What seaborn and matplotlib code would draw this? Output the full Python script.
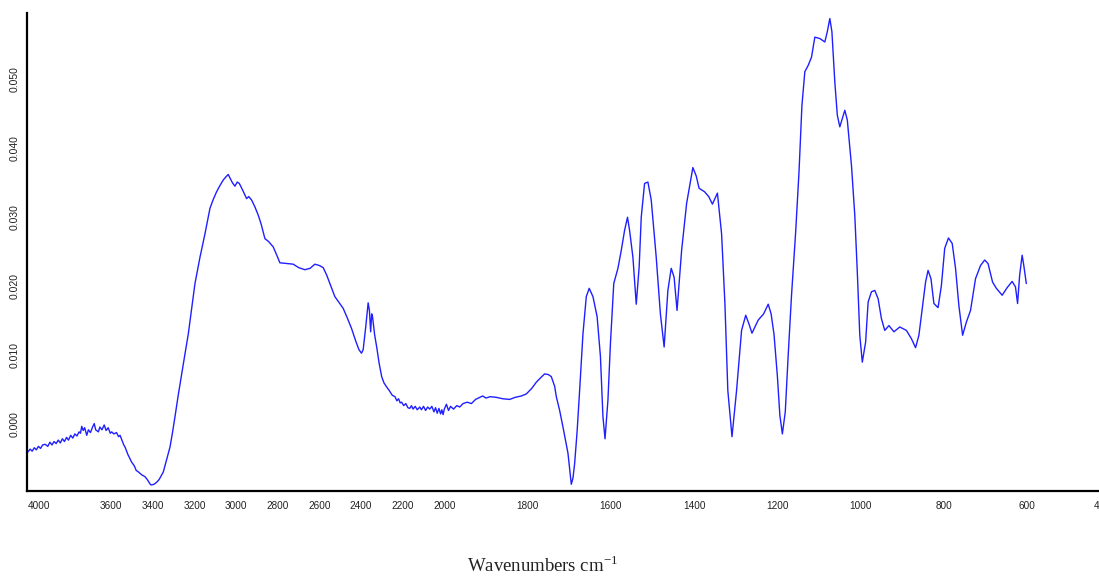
import numpy as np
import pandas as pd
import matplotlib
matplotlib.use("Agg")
import matplotlib.pyplot as plt
import seaborn as sns

# ---- data (wavenumber cm-1, absorbance) ----
wn_oh = [4000, 3990, 3980, 3970, 3960, 3950, 3940, 3930, 3918, 3905, 3895, 3885, 3875, 3865,
         3855, 3845, 3835, 3825, 3815, 3806, 3795, 3785, 3775, 3765, 3755, 3748, 3742, 3735,
         3728, 3718, 3710, 3700, 3690, 3682, 3675, 3662, 3655, 3645, 3634, 3625, 3615, 3605,
         3598, 3588, 3575, 3565, 3558, 3548, 3540, 3534, 3520, 3510, 3502, 3490, 3480, 3470,
         3455, 3438, 3425, 3415, 3409, 3395, 3382, 3370, 3350, 3335, 3318, 3306, 3294, 3278,
         3262, 3246, 3230, 3214, 3198, 3174, 3150, 3126, 3110, 3094, 3078, 3062, 3048, 3038,
         3030, 3018, 3006, 2995, 2985, 2970, 2950, 2940, 2926, 2910, 2894, 2880, 2862, 2845,
         2822, 2805, 2790, 2760, 2726, 2700, 2670, 2645, 2622, 2600, 2582, 2565, 2550, 2526,
         2505, 2486, 2466, 2446, 2425, 2410, 2398, 2390, 2378, 2366, 2360, 2354, 2349, 2345,
         2335, 2325, 2313, 2301, 2290, 2277, 2265, 2250, 2237, 2228, 2220, 2212, 2205]
ab_oh = [-0.0040, -0.0036, -0.0039, -0.0034, -0.0037, -0.0032, -0.0035, -0.0030, -0.0029,
         -0.0032, -0.0026, -0.0030, -0.0025, -0.0028, -0.0023, -0.0027, -0.0021, -0.0025,
         -0.0019, -0.0023, -0.0016, -0.0020, -0.0014, -0.0017, -0.0011, -0.0013, -0.0003,
         -0.0009, -0.0005, -0.0016, -0.0008, -0.0012, -0.0004, 0.0001, -0.0008, -0.0011,
         -0.0004, -0.0008, -0.0001, -0.0009, -0.0005, -0.0013, -0.0011, -0.0014, -0.0012,
         -0.0018, -0.0016, -0.0024, -0.0030, -0.0033, -0.0044, -0.0050, -0.0055, -0.0060,
         -0.0067, -0.0069, -0.0073, -0.0076, -0.0081, -0.0086, -0.0088, -0.0087, -0.0084,
         -0.0080, -0.0069, -0.0052, -0.0033, -0.0012, 0.0011, 0.0043, 0.0073, 0.0102, 0.0131,
         0.0167, 0.0204, 0.0242, 0.0276, 0.0313, 0.0326, 0.0337, 0.0346, 0.0354, 0.0359,
         0.0362, 0.0357, 0.0350, 0.0345, 0.0351, 0.0349, 0.0340, 0.0327, 0.0330, 0.0325,
         0.0315, 0.0303, 0.0290, 0.0269, 0.0265, 0.0257, 0.0245, 0.0234, 0.0233, 0.0232,
         0.0227, 0.0224, 0.0226, 0.0232, 0.0230, 0.0227, 0.0216, 0.0204, 0.0185, 0.0176,
         0.0168, 0.0154, 0.0139, 0.0120, 0.0108, 0.0103, 0.0108, 0.0140, 0.0176, 0.0165,
         0.0134, 0.0160, 0.0156, 0.0130, 0.0112, 0.0088, 0.0069, 0.0060, 0.0054, 0.0049,
         0.0042, 0.0040, 0.0034, 0.0037, 0.0031, 0.0032]

wn_base = [2195, 2185, 2175, 2166, 2158, 2150, 2140, 2130, 2118, 2110, 2100, 2090, 2080, 2070,
           2060, 2050, 2042, 2034, 2026, 2018, 2012, 2006, 2000, 1995, 1990, 1985, 1978, 1970,
           1963, 1955, 1945, 1935, 1925, 1915, 1908, 1900, 1890, 1875, 1860, 1843, 1830, 1815,
           1803, 1790, 1779, 1771, 1759, 1750, 1743, 1735, 1731, 1723, 1715, 1703, 1698, 1695,
           1691, 1687, 1681, 1675, 1667, 1659, 1652, 1643, 1633, 1625, 1619, 1614, 1607, 1601]
ab_base = [0.0027, 0.0030, 0.0024, 0.0023, 0.0027, 0.0022, 0.0026, 0.0021, 0.0025, 0.0021,
           0.0026, 0.0020, 0.0025, 0.0022, 0.0026, 0.0018, 0.0024, 0.0016, 0.0023, 0.0015,
           0.0021, 0.0014, 0.0022, 0.0029, 0.0020, 0.0026, 0.0022, 0.0027, 0.0025, 0.0030,
           0.0032, 0.0030, 0.0036, 0.0039, 0.0041, 0.0038, 0.0040, 0.0039, 0.0037, 0.0036,
           0.0039, 0.0041, 0.0044, 0.0052, 0.0061, 0.0066, 0.0073, 0.0072, 0.0069, 0.0055,
           0.0040, 0.0020, -0.0004, -0.0042, -0.0070, -0.0087, -0.0078, -0.0057, -0.0010,
           0.0049, 0.0131, 0.0185, 0.0197, 0.0185, 0.0156, 0.0098, 0.0011, -0.0021, 0.0035,
           0.0117]

wn_fp = [1593, 1583, 1575, 1567, 1560, 1555, 1547, 1539, 1532, 1527, 1519, 1511, 1503, 1491,
         1481, 1472, 1463, 1455, 1448, 1441, 1430, 1418, 1403, 1395, 1388, 1375, 1365, 1356,
         1344, 1334, 1326, 1319, 1309, 1298, 1286, 1276, 1268, 1261, 1246, 1233, 1222, 1215,
         1208, 1200, 1194, 1188, 1181, 1174, 1166, 1156, 1148, 1141, 1134, 1126, 1118, 1110,
         1098, 1086, 1080, 1074, 1069, 1062, 1056, 1050, 1044, 1038, 1032, 1022, 1014, 1008,
         1002, 996, 988, 982, 974, 966, 958, 950, 942, 932, 920, 906, 890, 878, 868, 860, 852,
         844, 838, 831, 824, 814, 806, 798, 789, 780, 772, 764, 755, 746, 736, 724, 712, 702,
         694, 683, 674, 660, 648, 636, 628, 623, 618, 612, 608, 602]
ab_fp = [0.0204, 0.0226, 0.0252, 0.0281, 0.0300, 0.0281, 0.0242, 0.0174, 0.0228, 0.0300,
         0.0349, 0.0351, 0.0325, 0.0242, 0.0160, 0.0112, 0.0194, 0.0226, 0.0213, 0.0165,
         0.0252, 0.0320, 0.0372, 0.0360, 0.0342, 0.0337, 0.0330, 0.0319, 0.0335, 0.0276,
         0.0175, 0.0049, -0.0018, 0.0049, 0.0136, 0.0158, 0.0145, 0.0132, 0.0151, 0.0160,
         0.0174, 0.0160, 0.0130, 0.0070, 0.0013, -0.0014, 0.0018, 0.0100, 0.0187, 0.0279,
         0.0366, 0.0462, 0.0511, 0.0520, 0.0532, 0.0561, 0.0559, 0.0554, 0.0569, 0.0588,
         0.0569, 0.0496, 0.0448, 0.0431, 0.0443, 0.0455, 0.0441, 0.0375, 0.0303, 0.0221,
         0.0129, 0.0090, 0.0119, 0.0177, 0.0192, 0.0194, 0.0182, 0.0153, 0.0136, 0.0143,
         0.0134, 0.0141, 0.0136, 0.0124, 0.0111, 0.0129, 0.0168, 0.0206, 0.0223, 0.0211,
         0.0175, 0.0169, 0.0201, 0.0255, 0.0270, 0.0262, 0.0226, 0.0172, 0.0129, 0.0148,
         0.0165, 0.0211, 0.0230, 0.0238, 0.0233, 0.0206, 0.0197, 0.0187, 0.0198, 0.0207,
         0.0199, 0.0175, 0.0216, 0.0245, 0.0230, 0.0204]

x_ticks = [4000, 3600, 3400, 3200, 3000, 2800, 2600, 2400, 2200, 2000, 1800, 1600, 1400,
           1200, 1000, 800, 600, 400]
y_ticks = [0.000, 0.010, 0.020, 0.030, 0.040, 0.050]
x_label = "Wavenumbers cm$^{\\mathregular{-1}}$"

df = pd.DataFrame({"wn": wn_oh + wn_base + wn_fp, "ab": ab_oh + ab_base + ab_fp})

# ---- style ----
sns.set_style("white")
plt.rcParams["font.family"] = ["Liberation Sans", "DejaVu Sans"]
plt.rcParams["mathtext.fontset"] = "custom"
plt.rcParams["mathtext.rm"] = "Liberation Serif"

fig = plt.figure(figsize=(10.99, 5.76), dpi=100)
ax = fig.add_axes([27 / 1099, 85 / 576, (1110.4 - 27) / 1099, 478 / 576])


def fwd(x):
    x = np.asarray(x, dtype=float)
    return np.where(x > 2000, 2000 + (x - 2000) / 2.0, x)


def inv(u):
    u = np.asarray(u, dtype=float)
    return np.where(u > 2000, 2000 + (u - 2000) * 2.0, u)


ax.set_xscale("function", functions=(fwd, inv))

sns.lineplot(data=df, x="wn", y="ab", ax=ax, sort=False, estimator=None,
             color="#1f1fff", linewidth=1.0)

ax.set_xlim(4005, 400)
ax.set_ylim(-0.00967, 0.0596)
ax.set_xlabel("")
ax.set_ylabel("")

ax.set_xticks(x_ticks)
ax.set_xticklabels([str(t) for t in x_ticks])
ax.set_yticks(y_ticks)
ax.set_yticklabels([f"{t:.3f}" for t in y_ticks])
ax.xaxis.set_minor_locator(matplotlib.ticker.NullLocator())

ax.tick_params(axis="x", direction="out", length=4.5, width=1.0, pad=3,
               labelsize=7.2, colors="#222222")
ax.tick_params(axis="y", direction="out", length=3, width=1.0, pad=2,
               labelsize=7.5, colors="#222222")
for lab in ax.get_yticklabels():
    lab.set_rotation(90)
    lab.set_va("center")
    lab.set_ha("right")
xlabs = ax.get_xticklabels()
xlabs[0].set_ha("left")
xlabs[-1].set_ha("right")

sns.despine(ax=ax)
for s in ("left", "bottom"):
    ax.spines[s].set_color("black")
    ax.spines[s].set_linewidth(1.6)

fig.text(543 / 1099, 1 - 566 / 576, x_label, ha="center", va="center",
         fontsize=13.5, family="Liberation Serif", color="#222222")

fig.savefig("out.png", dpi=100)
